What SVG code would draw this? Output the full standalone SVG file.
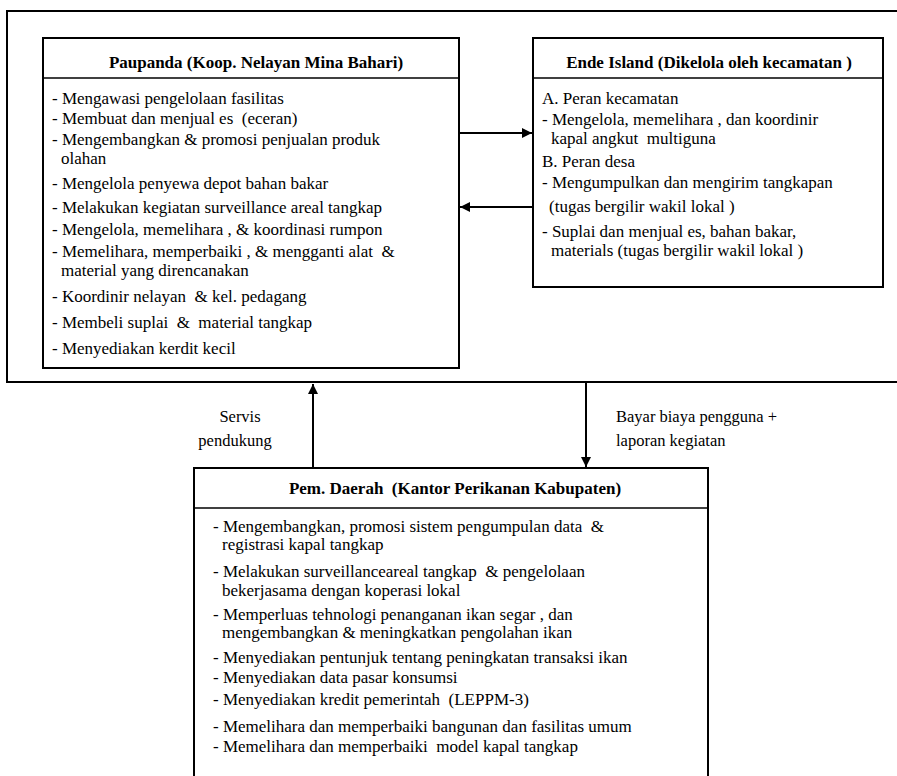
<svg xmlns="http://www.w3.org/2000/svg" width="897" height="776" viewBox="0 0 897 776">
<style>
.box{fill:none;stroke:#000;stroke-width:2}
.sep{stroke:#000;stroke-width:1.5}
.frame{fill:none;stroke:#000;stroke-width:2}
text{white-space:pre}
.hd{font-family:"Liberation Serif","Times New Roman",serif;font-weight:bold;font-size:17px;fill:#000;text-anchor:middle}
.tx{font-family:"Liberation Serif","Times New Roman",serif;font-size:17px;fill:#000}
.lb{font-family:"Liberation Serif","Times New Roman",serif;font-size:16.5px;fill:#000}
.cn{stroke:#000;stroke-width:2;fill:none;marker-end:url(#ah)}
</style>
<defs>
<marker id="ah" viewBox="0 0 10 10" refX="10" refY="5" markerWidth="6" markerHeight="5" markerUnits="strokeWidth" orient="auto">
<path d="M0,0 L10,5 L0,10 z" fill="#000"/>
</marker>
</defs>
<rect width="897" height="776" fill="#fff"/>
<path class="frame" d="M900,11 H7 V382 H900"/>

<g id="paupanda">
<rect class="box" x="43" y="38" width="416" height="330"/>
<line class="sep" x1="43" y1="78" x2="459" y2="78"/>
<text class="hd" x="256" y="68">Paupanda (Koop. Nelayan Mina Bahari)</text>
<text class="tx" x="52" y="104">- Mengawasi pengelolaan fasilitas</text>
<text class="tx" x="52" y="124">- Membuat dan menjual es  (eceran)</text>
<text class="tx" x="52" y="145">- Mengembangkan &amp; promosi penjualan produk</text>
<text class="tx" x="61" y="164">olahan</text>
<text class="tx" x="52" y="189">- Mengelola penyewa depot bahan bakar</text>
<text class="tx" x="52" y="213">- Melakukan kegiatan surveillance areal tangkap</text>
<text class="tx" x="52" y="235">- Mengelola, memelihara , &amp; koordinasi rumpon</text>
<text class="tx" x="52" y="257">- Memelihara, memperbaiki , &amp; mengganti alat  &amp;</text>
<text class="tx" x="61" y="276">material yang direncanakan</text>
<text class="tx" x="52" y="302">- Koordinir nelayan  &amp; kel. pedagang</text>
<text class="tx" x="52" y="328">- Membeli suplai  &amp;  material tangkap</text>
<text class="tx" x="52" y="354">- Menyediakan kerdit kecil</text>
</g>

<g id="ende">
<rect class="box" x="533" y="38" width="350" height="249"/>
<line class="sep" x1="533" y1="78" x2="883" y2="78"/>
<text class="hd" x="709" y="68">Ende Island (Dikelola oleh kecamatan )</text>
<text class="tx" x="542" y="104">A. Peran kecamatan</text>
<text class="tx" x="542" y="125">- Mengelola, memelihara , dan koordinir</text>
<text class="tx" x="551" y="144">kapal angkut  multiguna</text>
<text class="tx" x="542" y="167">B. Peran desa</text>
<text class="tx" x="542" y="188">- Mengumpulkan dan mengirim tangkapan</text>
<text class="tx" x="549" y="212">(tugas bergilir wakil lokal )</text>
<text class="tx" x="542" y="237">- Suplai dan menjual es, bahan bakar,</text>
<text class="tx" x="551" y="256">materials (tugas bergilir wakil lokal )</text>
</g>

<g id="pemda">
<rect class="box" x="194" y="468" width="514" height="330"/>
<line class="sep" x1="194" y1="508" x2="708" y2="508"/>
<text class="hd" x="455" y="494">Pem. Daerah  (Kantor Perikanan Kabupaten)</text>
<text class="tx" x="213" y="532">- Mengembangkan, promosi sistem pengumpulan data  &amp;</text>
<text class="tx" x="222" y="550">registrasi kapal tangkap</text>
<text class="tx" x="213" y="577">- Melakukan surveillanceareal tangkap  &amp; pengelolaan</text>
<text class="tx" x="222" y="596">bekerjasama dengan koperasi lokal</text>
<text class="tx" x="213" y="620">- Memperluas tehnologi penanganan ikan segar , dan</text>
<text class="tx" x="222" y="638">mengembangkan &amp; meningkatkan pengolahan ikan</text>
<text class="tx" x="213" y="663">- Menyediakan pentunjuk tentang peningkatan transaksi ikan</text>
<text class="tx" x="213" y="683">- Menyediakan data pasar konsumsi</text>
<text class="tx" x="213" y="705">- Menyediakan kredit pemerintah  (LEPPM-3)</text>
<text class="tx" x="213" y="732">- Memelihara dan memperbaiki bangunan dan fasilitas umum</text>
<text class="tx" x="213" y="752">- Memelihara dan memperbaiki  model kapal tangkap</text>
</g>

<g id="connectors">
<line class="cn" x1="459" y1="133" x2="532" y2="133"/>
<line class="cn" x1="533" y1="207" x2="460" y2="207"/>
<line class="cn" x1="313" y1="468" x2="313" y2="384"/>
<line class="cn" x1="586" y1="383" x2="586" y2="467"/>
</g>

<g id="labels">
<text class="lb" x="240" y="422" text-anchor="middle">Servis</text>
<text class="lb" x="235" y="446" text-anchor="middle">pendukung</text>
<text class="lb" x="616" y="422">Bayar biaya pengguna +</text>
<text class="lb" x="616" y="446">laporan kegiatan</text>
</g>
</svg>
